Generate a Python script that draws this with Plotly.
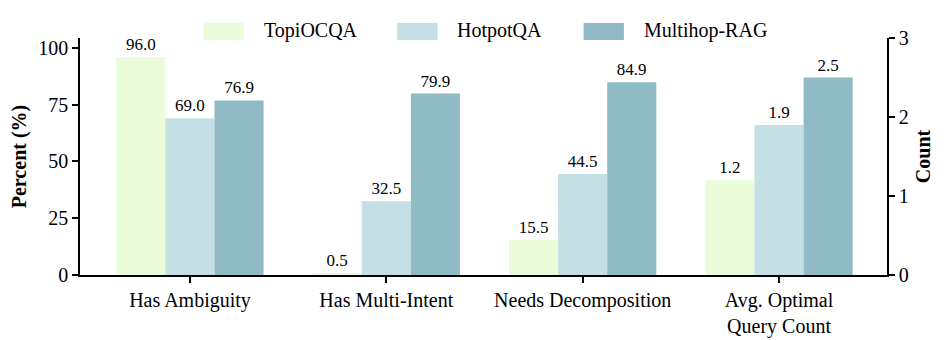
import plotly.graph_objects as go

# categories and values
categories = ["Has Ambiguity", "Has Multi-Intent", "Needs Decomposition", "Avg. Optimal<br>Query Count"]
datasets = ["TopiOCQA", "HotpotQA", "Multihop-RAG"]
colors = ["#EAFCD9", "#C4E0E5", "#8FBAC6"]

# percent values for the first three categories (left axis)
topiocqa_pct = [96.0, 0.5, 15.5]
hotpotqa_pct = [69.0, 32.5, 44.5]
multihop_pct = [76.9, 79.9, 84.9]

# avg optimal query count (right axis)
topiocqa_cnt = [1.2]
hotpotqa_cnt = [1.9]
multihop_cnt = [2.5]

pct_values = [topiocqa_pct, hotpotqa_pct, multihop_pct]
cnt_values = [topiocqa_cnt, hotpotqa_cnt, multihop_cnt]

FONT = "Times New Roman, Liberation Serif, serif"
bar_w = 0.25

fig = go.Figure()
for i, name in enumerate(datasets):
    offset = -1.5 * bar_w + i * bar_w
    fig.add_trace(go.Bar(
        x=categories[:3], y=pct_values[i], name=name,
        marker=dict(color=colors[i], line=dict(width=0)),
        width=bar_w, offset=offset,
        texttemplate="%{y:.1f}", textposition="outside",
        textfont=dict(family=FONT, size=17, color="black"),
        cliponaxis=False, showlegend=False, yaxis="y",
    ))
    fig.add_trace(go.Bar(
        x=categories[3:], y=cnt_values[i], name=name,
        marker=dict(color=colors[i], line=dict(width=0)),
        width=bar_w, offset=offset,
        texttemplate="%{y:.1f}", textposition="outside",
        textfont=dict(family=FONT, size=17, color="black"),
        cliponaxis=False, showlegend=False, yaxis="y2",
    ))

# hand-made legend with wide colour patches
legend_x = [0.153, 0.393, 0.624]
for i, name in enumerate(datasets):
    fig.add_shape(type="rect", xref="paper", yref="paper",
                  x0=legend_x[i], x1=legend_x[i] + 0.05, y0=0.992, y1=1.063,
                  fillcolor=colors[i], line=dict(width=0))
    fig.add_annotation(x=legend_x[i] + 0.072, y=1.03, xref="paper", yref="paper",
                       text=name, showarrow=False, xanchor="left", yanchor="middle",
                       font=dict(family=FONT, size=20, color="black"))

# page body adds an 8px offset, so the figure is a bit smaller than the window
fig.update_layout(
    width=939, height=332,
    margin=dict(l=72, r=60, t=30, b=65),
    plot_bgcolor="white", paper_bgcolor="white",
    barmode="overlay",
    font=dict(family=FONT, size=20, color="black"),
    xaxis=dict(
        type="category", categoryorder="array", categoryarray=categories,
        range=[-0.56, 3.55], automargin=False,
        showline=True, linecolor="black", linewidth=1.5,
        ticks="outside", ticklen=6, tickwidth=1.5, tickcolor="black",
        tickfont=dict(family=FONT, size=20),
        showgrid=False, zeroline=False,
    ),
    yaxis=dict(
        range=[0, 104.4], tickvals=[0, 25, 50, 75, 100], automargin=False,
        showline=True, linecolor="black", linewidth=1.5,
        ticks="outside", ticklen=6, tickwidth=1.5, tickcolor="black",
        tickfont=dict(family=FONT, size=20),
        title=dict(text="<b>Percent (%)</b>", font=dict(family=FONT, size=20), standoff=8),
        showgrid=False, zeroline=False,
    ),
    yaxis2=dict(
        overlaying="y", side="right", automargin=False,
        range=[0, 3], tickvals=[0, 1, 2, 3],
        showline=True, linecolor="black", linewidth=1.5,
        ticks="outside", ticklen=6, tickwidth=1.5, tickcolor="black",
        tickfont=dict(family=FONT, size=20),
        title=dict(text="<b>Count</b>", font=dict(family=FONT, size=20), standoff=8),
        showgrid=False, zeroline=False,
    ),
)

fig.write_html("out.html")
